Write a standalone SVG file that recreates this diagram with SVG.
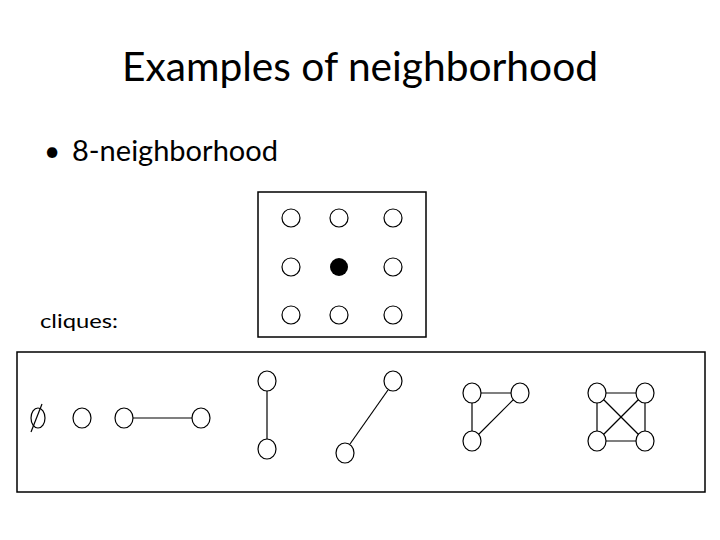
<svg xmlns="http://www.w3.org/2000/svg" width="720" height="540" viewBox="0 0 720 540">
<style>
.t{font-family:Lato,"Open Sans","Liberation Sans",sans-serif;fill:#000}
.n{fill:#fff;stroke:#000;stroke-width:1.2}
.e{stroke:#000;stroke-width:1.2;fill:none}
.b{fill:none;stroke:#000;stroke-width:1.5}
</style>
<rect width="720" height="540" fill="#fff"/>
<text class="t" x="122" y="81" font-size="40" textLength="476" lengthAdjust="spacingAndGlyphs">Examples of neighborhood</text>
<text class="t" x="44" y="161" font-size="28">•</text>
<text class="t" x="72" y="161" font-size="28" textLength="206" lengthAdjust="spacingAndGlyphs">8-neighborhood</text>
<text class="t" x="40" y="328" font-size="20" textLength="78" lengthAdjust="spacingAndGlyphs">cliques:</text>
<rect class="b" x="258" y="192" width="168" height="145"/>
<rect class="b" x="17" y="352" width="688" height="140"/>
<g id="grid">
<circle class="n" cx="291" cy="218" r="9"/><circle class="n" cx="339" cy="218" r="9"/><circle class="n" cx="393" cy="218" r="9"/>
<circle class="n" cx="291" cy="267" r="9"/><circle cx="339" cy="267" r="9"/><circle class="n" cx="393" cy="267" r="9"/>
<circle class="n" cx="291" cy="315" r="9"/><circle class="n" cx="339" cy="315" r="9"/><circle class="n" cx="393" cy="315" r="9"/>
</g>
<g id="connectors">
<line class="e" x1="133" y1="418" x2="192" y2="418"/>
<line class="e" x1="267" y1="391" x2="267" y2="439"/>
<line class="e" x1="388" y1="390" x2="350" y2="444"/>
<line class="e" x1="472" y1="393" x2="520" y2="393"/><line class="e" x1="472" y1="393" x2="472" y2="441"/><line class="e" x1="520" y1="393" x2="472" y2="441"/>
<line class="e" x1="597" y1="393" x2="645" y2="393"/><line class="e" x1="597" y1="441" x2="645" y2="441"/><line class="e" x1="597" y1="393" x2="597" y2="441"/><line class="e" x1="645" y1="393" x2="645" y2="441"/><line class="e" x1="597" y1="393" x2="645" y2="441"/><line class="e" x1="645" y1="393" x2="597" y2="441"/>
</g>
<g id="empty"><ellipse class="e" cx="38" cy="418" rx="7" ry="10"/><line class="e" x1="31" y1="432" x2="42" y2="404"/></g>
<g id="c1"><ellipse class="n" cx="82" cy="418" rx="9" ry="10"/></g>
<g id="c2"><ellipse class="n" cx="124" cy="418" rx="9" ry="10"/><ellipse class="n" cx="201" cy="418" rx="9" ry="10"/></g>
<g id="c3"><ellipse class="n" cx="267" cy="381" rx="9" ry="10"/><ellipse class="n" cx="267" cy="449" rx="9" ry="10"/></g>
<g id="c4"><ellipse class="n" cx="393" cy="381" rx="9" ry="10"/><ellipse class="n" cx="345" cy="453" rx="9" ry="10"/></g>
<g id="c5"><ellipse class="n" cx="472" cy="393" rx="9" ry="10"/><ellipse class="n" cx="520" cy="393" rx="9" ry="10"/><ellipse class="n" cx="472" cy="441" rx="9" ry="10"/></g>
<g id="c6"><ellipse class="n" cx="597" cy="393" rx="9" ry="10"/><ellipse class="n" cx="645" cy="393" rx="9" ry="10"/><ellipse class="n" cx="597" cy="441" rx="9" ry="10"/><ellipse class="n" cx="645" cy="441" rx="9" ry="10"/></g>
</svg>
